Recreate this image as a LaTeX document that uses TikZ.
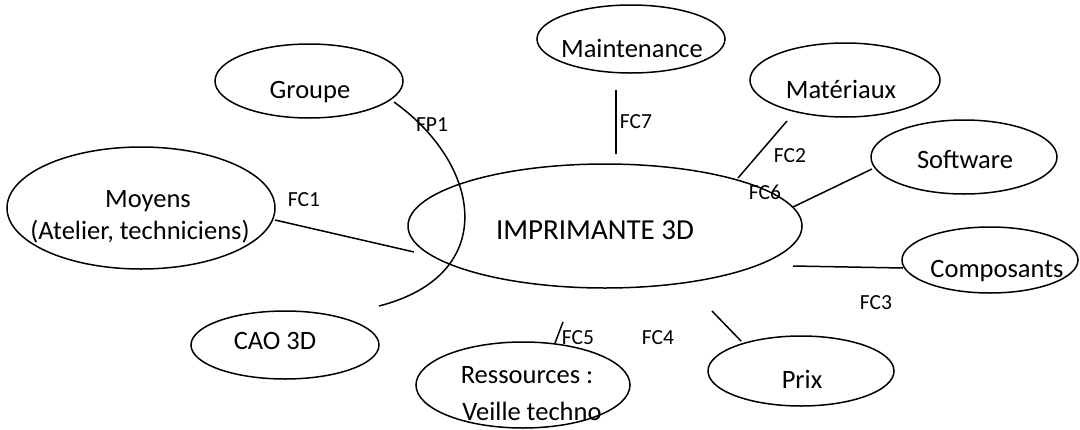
\documentclass[tikz,border=0pt]{standalone}
\usepackage{fontspec}
\setmainfont{Carlito}
\usetikzlibrary{shapes.geometric}
\begin{document}
\begin{tikzpicture}[x=1pt,y=-1pt,
  ell/.style={draw,ellipse,line width=1.5pt,inner sep=0pt},
  txt/.style={anchor=base,inner sep=0pt,font=\fontsize{26.5}{31}\selectfont},
  bigtxt/.style={anchor=base,inner sep=0pt,font=\fontsize{29}{34}\selectfont},
  lab/.style={anchor=base,inner sep=0pt,font=\fontsize{21.5}{25}\selectfont},
  link/.style={line width=1.5pt}]
\useasboundingbox (0,0) rectangle (1080,429);
% ellipses
\node[ell,minimum width=188pt,minimum height=74pt] (groupe) at (309,81) {};
\node[ell,minimum width=268pt,minimum height=122pt] (moyens) at (141,208) {};
\node[ell,minimum width=188pt,minimum height=68pt] (maint) at (631,39) {};
\node[ell,minimum width=190pt,minimum height=74pt] (mat) at (845,80) {};
\node[ell,minimum width=186pt,minimum height=74pt] (soft) at (964,157) {};
\node[ell,minimum width=176pt,minimum height=66pt] (comp) at (990,260) {};
\node[ell,minimum width=186pt,minimum height=70pt] (prix) at (801,371) {};
\node[ell,minimum width=214pt,minimum height=86pt] (ress) at (523,385) {};
\node[ell,minimum width=188pt,minimum height=68pt] (cao) at (285,345) {};
\node[ell,minimum width=394pt,minimum height=124pt] (imp) at (605,226) {};
% texts
\node[txt] (tgroupe) at (310,98) {Groupe};
\node[txt] (tmoyens1) at (148,207) {Moyens};
\node[txt] (tmoyens2) at (140,239) {(Atelier, techniciens)};
\node[txt] (tmaint) at (632,57) {Maintenance};
\node[txt] (tmat) at (841,98) {Matériaux};
\node[txt] (tsoft) at (965,168) {Software};
\node[txt] (tcomp) at (997,277) {Composants};
\node[txt] (tprix) at (802,388) {Prix};
\node[txt] (tress1) at (527,383) {Ressources :};
\node[txt] (tress2) at (532,420) {Veille techno};
\node[txt] (tcao) at (275,349) {CAO 3D};
\node[bigtxt] (timp) at (595,239) {IMPRIMANTE 3D};
% labels
\node[lab] (fp1) at (432,131) {FP1};
\node[lab] (fc1) at (304,206) {FC1};
\node[lab] (fc7) at (636,128) {FC7};
\node[lab] (fc2) at (790,162) {FC2};
\node[lab] (fc6) at (765,199) {FC6};
\node[lab] (fc3) at (876,309) {FC3};
\node[lab] (fc4) at (658,344) {FC4};
\node[lab] (fc5) at (578,344) {FC5};
% connector end points
\coordinate (a1) at (394,102); \coordinate (a2) at (379,306);
\coordinate (b1) at (275,220); \coordinate (b2) at (414,252);
\coordinate (c1) at (616,90);  \coordinate (c2) at (616,154);
\coordinate (d1) at (787,121); \coordinate (d2) at (738,178);
\coordinate (e1) at (872,169); \coordinate (e2) at (793,207);
\coordinate (f1) at (793,266); \coordinate (f2) at (903,268);
\coordinate (g1) at (712,311); \coordinate (g2) at (741,341);
\coordinate (h1) at (563,322); \coordinate (h2) at (555,343);
% connectors
\draw[link] (a1) .. controls (482,165) and (500,275) .. (a2);
\draw[link] (b1) -- (b2);
\draw[link] (c1) -- (c2);
\draw[link] (d1) -- (d2);
\draw[link] (e1) -- (e2);
\draw[link] (f1) -- (f2);
\draw[link] (g1) -- (g2);
\draw[link] (h1) -- (h2);
\end{tikzpicture}
\end{document}
